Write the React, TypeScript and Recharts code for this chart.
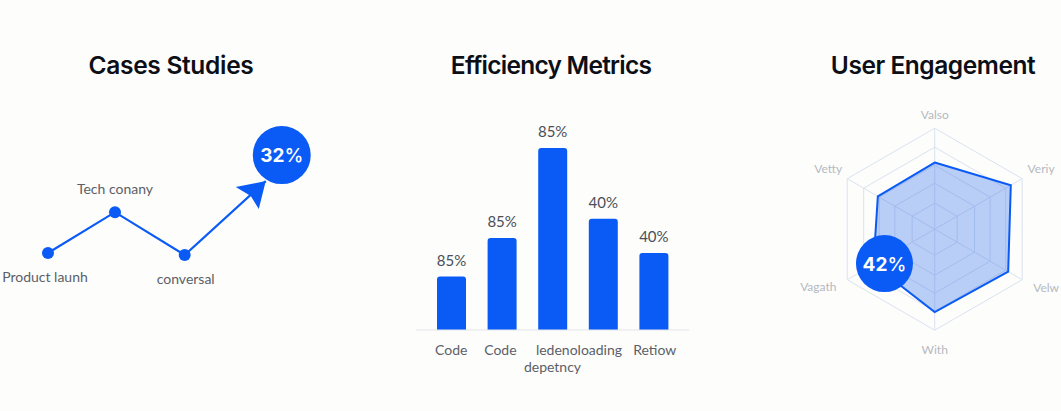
import React from "react";
import {
  BarChart, Bar, XAxis, YAxis, LabelList,
  LineChart, Line,
  RadarChart, Radar, PolarGrid, PolarAngleAxis, PolarRadiusAxis,
} from "recharts";

const BLUE = "#0a5bf5";
const FONT = "Lato, 'Open Sans', sans-serif";
const TITLE_FONT = "Inter, Roboto, sans-serif";

// Cases Studies
const caseStages = [1, 2, 3.04, 4.25];
const caseValues = [10, 22.5, 9.4, 32];
const caseLabels = ["Product launh", "Tech conany", "conversal", ""];
const caseBadge = "32";

// Efficiency Metrics
const barKeys = ["a", "b", "c", "d", "e"];
const barValues = [25, 43, 85, 52, 36];
const barLabels = ["85%", "85%", "85%", "40%", "40%"];
const barTicks = ["Code", "Code", "depetncy", "", "Retiow"];
const barTickExtra = "ledenoloading";

// User Engagement
const radarAxes = ["Valso", "Veriy", "Velw", "With", "Vagath", "Vetty"];
const radarValues = [66, 87, 84, 82, 70, 65];
const radarBadge = "42";

const lineData = caseStages.map((stage, i) => ({ stage, value: caseValues[i] }));
const barData = barValues.map((value, i) => ({ key: barKeys[i], value, label: barLabels[i] }));
const radarData = radarAxes.map((axis, i) => ({ axis, value: radarValues[i] }));

const titleStyle = (cx: number, spacing: number): React.CSSProperties => ({
  position: "absolute",
  left: cx - 150,
  width: 300,
  top: 49,
  textAlign: "center",
  fontFamily: TITLE_FONT,
  fontWeight: 600,
  fontSize: 24.5,
  lineHeight: "32px",
  letterSpacing: spacing,
  color: "#0c0f16",
});

function Badge({ x, y, r, text }: any) {
  return (
    <g>
      <circle cx={x} cy={y} r={r} fill={BLUE} />
      <text x={x} y={y + 7} textAnchor="middle" fontFamily={TITLE_FONT} fontWeight={700} fontSize={19} fill="#fff">
        {text}
        <tspan fontWeight={500}>%</tspan>
      </text>
    </g>
  );
}

function LineDot(props: any) {
  const { cx, cy, index } = props;
  if (index === caseStages.length - 1) {
    return (
      <g key={index}>
        <polygon
          points={`${cx},${cy} ${cx - 30},${cy + 6} ${cx - 15},${cy + 15} ${cx - 7},${cy + 28}`}
          fill={BLUE}
        />
        <Badge x={cx + 16} y={cy - 26} r={29} text={caseBadge} />
      </g>
    );
  }
  const dx = index === 0 ? -3 : index === 2 ? 1 : 0;
  const dy = index === 1 ? -18 : 29;
  return (
    <g key={index}>
      <circle cx={cx} cy={cy} r={6} fill={BLUE} />
      <text x={cx + dx} y={cy + dy} textAnchor="middle" fontFamily={FONT} fontSize={14} fill="#5b6067">
        {caseLabels[index]}
      </text>
    </g>
  );
}

function BarTick(props: any) {
  const { x, y, index } = props;
  const common = { fontFamily: FONT, fontSize: 14, fill: "#5b6067" };
  if (index === 2) {
    return (
      <g>
        <text x={x + 26.5} y={y + 17} textAnchor="middle" {...common}>{barTickExtra}</text>
        <text x={x} y={y + 34} textAnchor="middle" {...common}>{barTicks[2]}</text>
      </g>
    );
  }
  const nudge = index === 1 ? -1.5 : index === 4 ? 1 : 0;
  return <text x={x + nudge} y={y + 17} textAnchor="middle" {...common}>{barTicks[index]}</text>;
}

function RadarTick(props: any) {
  const { x, y, index } = props;
  const nudges = [[0, -5], [12, -6], [17, 4], [0, 12], [-22, 3], [-12, -6]];
  const [dx, dy] = nudges[index] || [0, 0];
  return (
    <text x={x + dx} y={y + dy + 4} textAnchor="middle" fontFamily={FONT} fontSize={12} fill="#b4b9c1">
      {radarAxes[index]}
    </text>
  );
}

function RadarDot(props: any) {
  const { cx, cy, index } = props;
  if (index !== 4) return <g key={index} />;
  return (
    <g key={index}>
      <Badge x={cx + 11} y={cy - 1} r={28.5} text={radarBadge} />
    </g>
  );
}

export default function App() {
  return (
    <div
      style={{
        position: "absolute",
        left: 0,
        top: 0,
        width: 1061,
        height: 411,
        overflow: "hidden",
        background: "#fdfdfc",
      }}
    >
      <div style={titleStyle(171, -0.3)}>Cases Studies</div>
      <div style={titleStyle(551, -0.75)}>Efficiency Metrics</div>
      <div style={titleStyle(933, -0.45)}>User Engagement</div>

      <div style={{ position: "absolute", left: 0, top: 100 }}>
        <LineChart width={340} height={190} data={lineData} margin={{ top: 0, right: 0, bottom: 0, left: 0 }}>
          <XAxis type="number" dataKey="stage" domain={[0.284, 5.358]} hide />
          <YAxis type="number" domain={[-1.3, 56.8]} hide />
          <Line
            dataKey="value"
            stroke={BLUE}
            strokeWidth={2.2}
            isAnimationActive={false}
            dot={(p: any) => <LineDot {...p} />}
            activeDot={false}
          />
        </LineChart>
      </div>

      <div style={{ position: "absolute", left: 416, top: 110 }}>
        <BarChart width={273} height={270} data={barData} margin={{ top: 6, right: 0, bottom: 0, left: 0 }} barSize={29}>
          <XAxis
            dataKey="key"
            axisLine={{ stroke: "#e3e5e9", strokeWidth: 1 }}
            tickLine={false}
            interval={0}
            padding={{ left: 10, right: 10 }}
            height={50}
            tick={(p: any) => <BarTick {...p} />}
          />
          <YAxis domain={[0, 100]} hide />
          <Bar dataKey="value" fill={BLUE} radius={[3, 3, 0, 0]} isAnimationActive={false}>
            <LabelList
              dataKey="label"
              position="top"
              offset={11}
              style={{ fontFamily: FONT, fontSize: 15, fill: "#4a4f57" }}
            />
          </Bar>
        </BarChart>
      </div>

      <div style={{ position: "absolute", left: 795, top: 90 }}>
        <RadarChart
          width={280}
          height={280}
          data={radarData}
          cx={139.7}
          cy={139.2}
          outerRadius={101}
          margin={{ top: 0, right: 0, bottom: 0, left: 0 }}
        >
          <PolarGrid gridType="polygon" stroke="#dbe2ef" strokeWidth={1} polarRadius={[26, 46, 64, 82, 101]} />
          <PolarRadiusAxis domain={[0, 100]} tickCount={6} tick={false} axisLine={false} />
          <PolarAngleAxis dataKey="axis" tick={(p: any) => <RadarTick {...p} />} tickLine={false} />
          <Radar
            dataKey="value"
            stroke={BLUE}
            strokeWidth={2}
            fill="#3f7bec"
            fillOpacity={0.36}
            isAnimationActive={false}
            dot={(p: any) => <RadarDot {...p} />}
          />
        </RadarChart>
      </div>
    </div>
  );
}
